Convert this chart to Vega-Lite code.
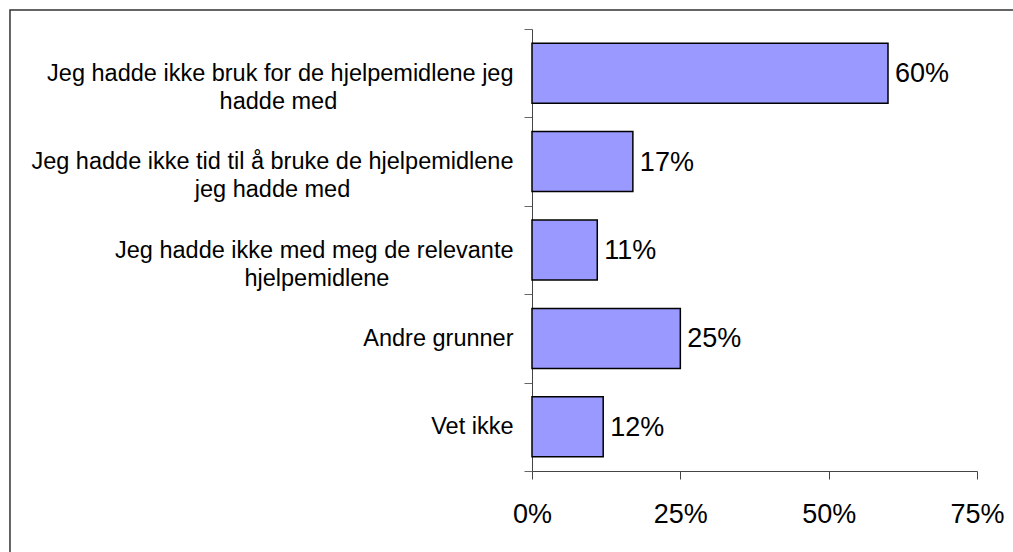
{
  "$schema": "https://vega.github.io/schema/vega-lite/v6.json",
  "autosize": "none",
  "width": 445,
  "height": 442,
  "padding": {"left": 532, "top": 29, "right": 36, "bottom": 81},
  "background": "white",
  "config": {
    "view": {"stroke": null},
    "font": "Liberation Sans"
  },
  "datasets": {
    "answers": [
      {"reason": "Jeg hadde ikke bruk for de hjelpemidlene jeg|hadde med\u00a0\u00a0\u00a0\u00a0\u00a0\u00a0\u00a0\u00a0\u00a0\u00a0\u00a0\u00a0\u00a0\u00a0\u00a0\u00a0\u00a0\u00a0\u00a0\u00a0\u00a0\u00a0\u00a0\u00a0\u00a0\u00a0\u00a0\u200b", "share": 0.60},
      {"reason": "Jeg hadde ikke tid til å bruke de hjelpemidlene|jeg hadde med\u00a0\u00a0\u00a0\u00a0\u00a0\u00a0\u00a0\u00a0\u00a0\u00a0\u00a0\u00a0\u00a0\u00a0\u00a0\u00a0\u00a0\u00a0\u00a0\u00a0\u00a0\u00a0\u00a0\u00a0\u00a0\u200b", "share": 0.17},
      {"reason": "Jeg hadde ikke med meg de relevante|hjelpemidlene\u00a0\u00a0\u00a0\u00a0\u00a0\u00a0\u00a0\u00a0\u00a0\u00a0\u00a0\u00a0\u00a0\u00a0\u00a0\u00a0\u00a0\u00a0\u00a0\u200b", "share": 0.11},
      {"reason": "Andre grunner", "share": 0.25},
      {"reason": "Vet ikke", "share": 0.12}
    ],
    "frame": [{"x1": -0.8798, "x2": 1.0, "y1": 1.043, "y2": -0.3}]
  },
  "data": {"name": "answers"},
  "layer": [
    {
      "data": {"name": "frame"},
      "mark": {"type": "rect", "fill": null, "stroke": "#333333", "strokeWidth": 1.5, "clip": false},
      "encoding": {
        "x": {"field": "x1", "type": "quantitative", "scale": {"domain": [0, 0.75], "nice": false, "zero": true}},
        "x2": {"field": "x2"},
        "y": {"field": "y1", "type": "quantitative", "scale": {"domain": [0, 1], "nice": false}, "axis": null},
        "y2": {"field": "y2"}
      }
    },
    {
      "layer": [
        {
          "mark": {"type": "bar", "fill": "#9999FF", "stroke": "#000000", "strokeWidth": 1.5, "size": 60},
          "encoding": {
            "y": {
              "field": "reason", "type": "nominal", "sort": null,
              "scale": {"paddingInner": 0, "paddingOuter": 0},
              "axis": {
                "title": null,
                "tickBand": "extent",
                "tickSize": 8,
                "tickColor": "#666666",
                "domainColor": "#444444",
                "labelExpr": "split(datum.label, '|')",
                "labelFont": "Liberation Sans",
                "labelFontSize": 23.5,
                "labelLineHeight": 28,
                "labelColor": "#000000",
                "labelPadding": 11,
                "labelLimit": 600,
                "labelAlign": "right",
                "labelBaseline": "middle"
              }
            },
            "x": {
              "field": "share", "type": "quantitative",
              "scale": {"domain": [0, 0.75], "nice": false},
              "axis": {
                "title": null,
                "values": [0, 0.25, 0.5, 0.75],
                "format": ".0%",
                "grid": false,
                "tickSize": 8,
                "tickColor": "#444444",
                "domainColor": "#444444",
                "labelFont": "Liberation Sans",
                "labelFontSize": 27,
                "labelColor": "#000000",
                "labelPadding": 22,
                "labelFlush": false
              }
            }
          }
        },
        {
          "mark": {"type": "text", "align": "left", "baseline": "middle", "dx": 7, "dy": 1, "fontSize": 27, "font": "Liberation Sans", "color": "#000000"},
          "encoding": {
            "y": {"field": "reason", "type": "nominal", "sort": null},
            "x": {"field": "share", "type": "quantitative"},
            "text": {"field": "share", "type": "quantitative", "format": ".0%"}
          }
        }
      ]
    }
  ],
  "resolve": {"scale": {"y": "independent"}}
}
